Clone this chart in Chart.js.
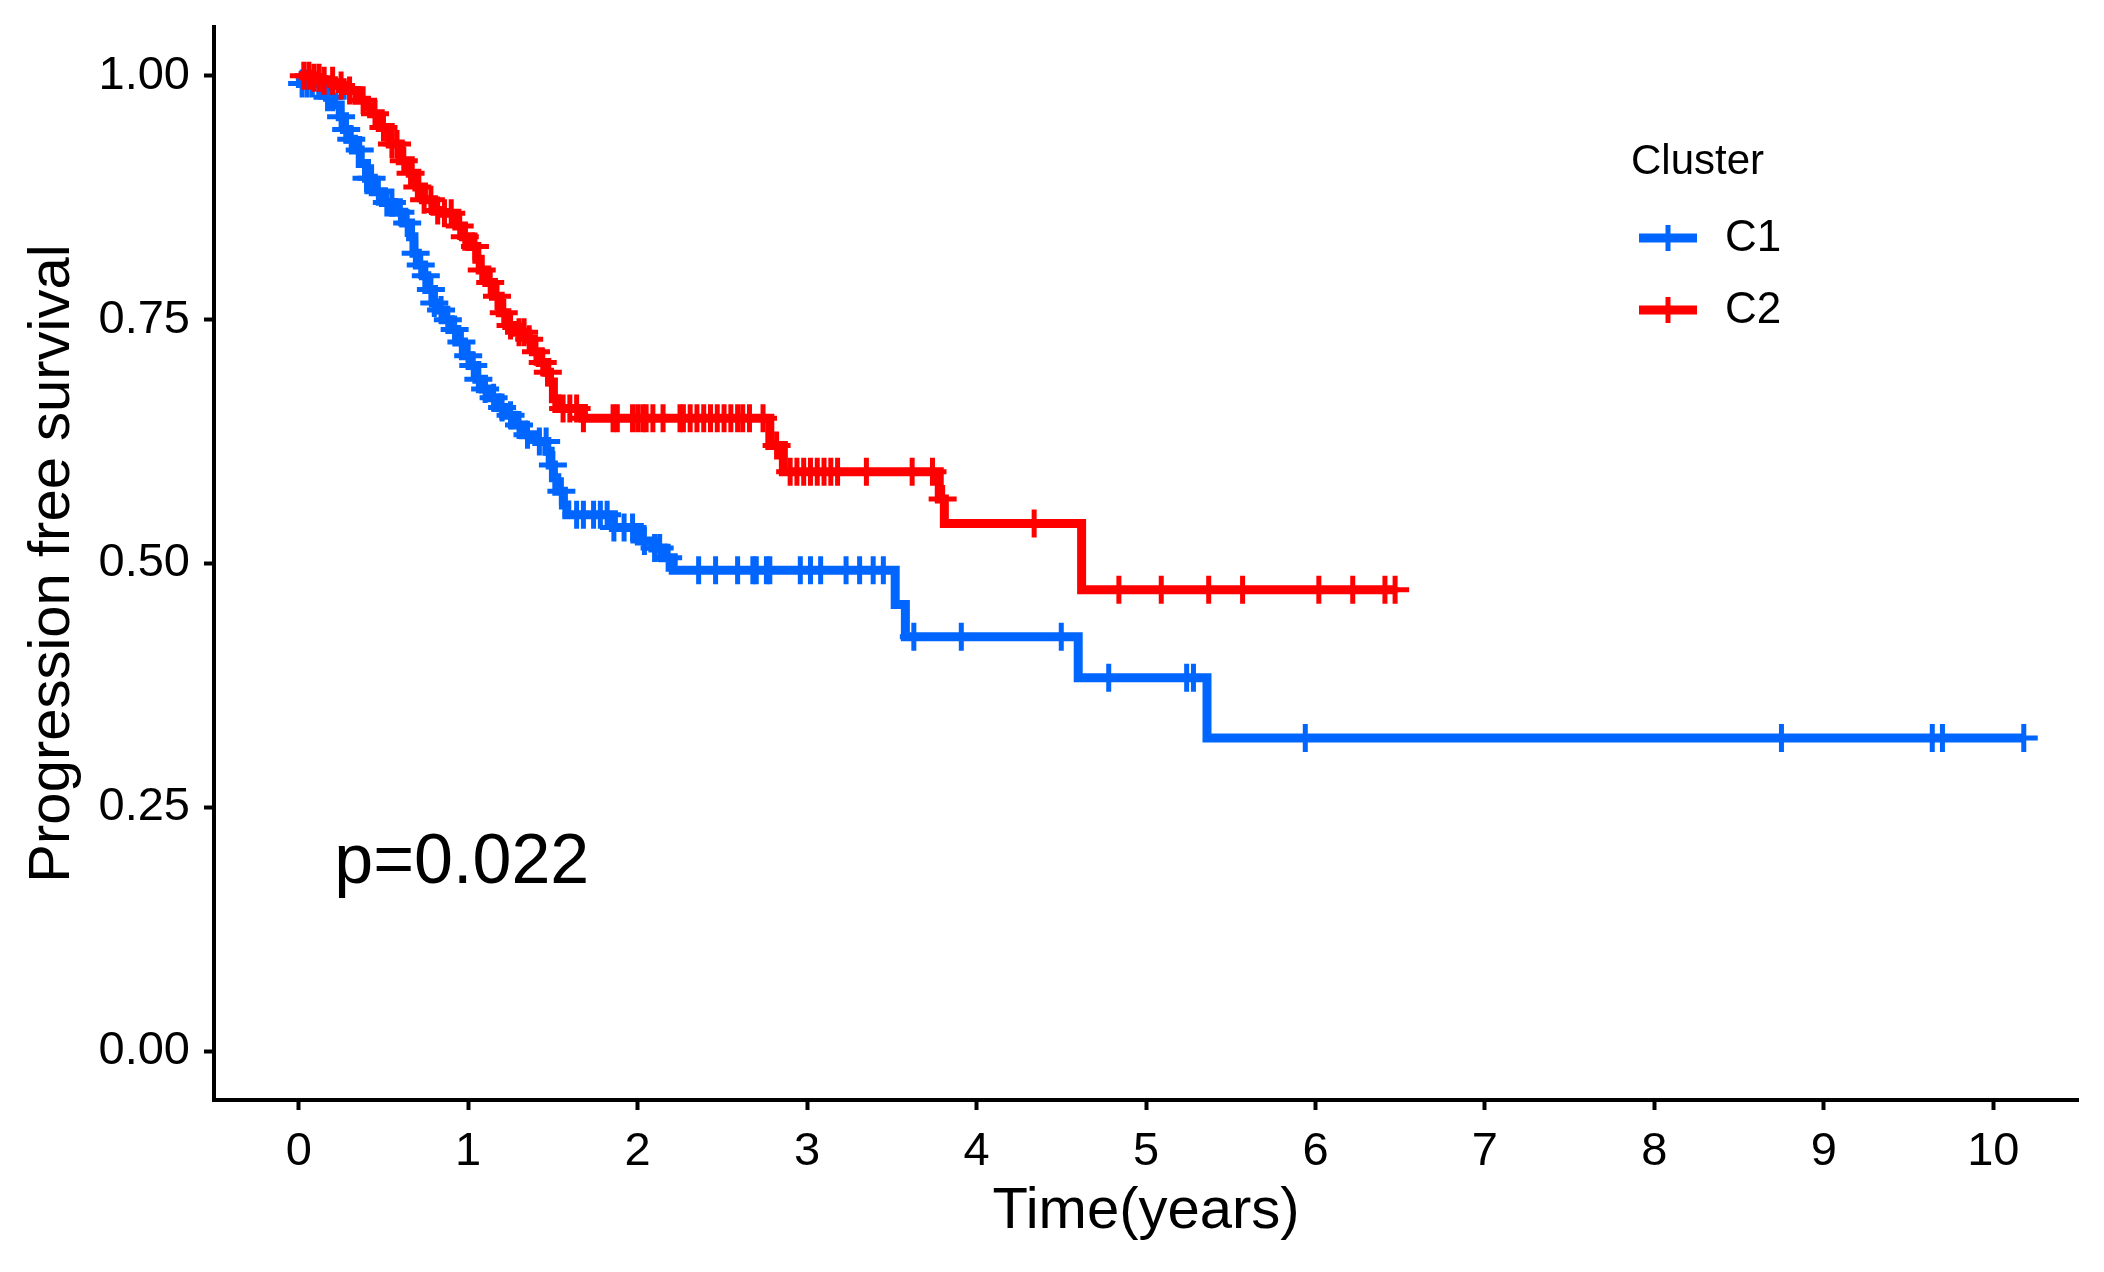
<!DOCTYPE html>
<html>
<head>
<meta charset="utf-8">
<script src="https://cdn.jsdelivr.net/npm/chart.js@4.4.1/dist/chart.umd.min.js"></script>
<style>
html, body { margin: 0; padding: 0; background: #fff; }
canvas { display: block; }
</style>
</head>
<body>
<canvas id="km" width="2104" height="1272"></canvas>
<script>
// Kaplan-Meier data (time in years, survival probability)
const c1Times = [0, 0.01, 0.13, 0.17, 0.205, 0.245, 0.27, 0.29, 0.323, 0.363,
                 0.40, 0.44, 0.50, 0.56, 0.62, 0.66, 0.68, 0.70, 0.736, 0.756,
                 0.795, 0.815, 0.854, 0.894, 0.933, 0.972, 1.012, 1.051, 1.09, 1.13,
                 1.17, 1.21, 1.267, 1.326, 1.405, 1.464, 1.484, 1.503, 1.523, 1.562,
                 1.582, 1.857, 2.01, 2.09, 2.15, 2.21, 3.52, 3.58, 4.60, 5.36];
const c1Surv  = [1, 0.992, 0.985, 0.978, 0.970, 0.958, 0.945, 0.935, 0.924, 0.910,
                 0.895, 0.881, 0.870, 0.860, 0.849, 0.835, 0.818, 0.806, 0.795, 0.781,
                 0.767, 0.760, 0.750, 0.740, 0.727, 0.713, 0.703, 0.689, 0.679, 0.670,
                 0.660, 0.652, 0.642, 0.632, 0.625, 0.615, 0.601, 0.588, 0.574, 0.560,
                 0.550, 0.537, 0.523, 0.516, 0.506, 0.493, 0.458, 0.425, 0.383, 0.321];
const c1End = 10.18;
const c1Censor = [0.02, 0.05, 0.08, 0.17, 0.2, 0.25, 0.28, 0.31, 0.36, 0.40,
                  0.43, 0.47, 0.52, 0.55, 0.6, 0.64, 0.69, 0.72, 0.75, 0.78,
                  0.8, 0.84, 0.88, 0.92, 0.96, 1.0, 1.03, 1.06, 1.1, 1.15,
                  1.2, 1.25, 1.3, 1.35, 1.42, 1.46, 1.5, 1.55, 1.64, 1.68,
                  1.74, 1.78, 1.82, 1.86, 1.92, 1.97, 2.04, 2.1, 2.13, 2.18,
                  2.36, 2.46, 2.59, 2.68, 2.70, 2.76, 2.78, 2.96, 3.02, 3.08,
                  3.23, 3.31, 3.39, 3.45, 3.63, 3.91, 4.50, 4.78, 5.24, 5.28,
                  5.94, 8.75, 9.64, 9.70, 10.18];

const c2Times = [0, 0.09, 0.13, 0.205, 0.264, 0.343, 0.40, 0.43, 0.481, 0.54,
                 0.599, 0.658, 0.697, 0.736, 0.795, 0.84, 0.933, 0.972, 1.012, 1.051,
                 1.071, 1.110, 1.149, 1.189, 1.228, 1.287, 1.346, 1.385, 1.425, 1.464,
                 1.48, 1.503, 1.523, 1.68, 2.78, 2.86, 3.78, 3.81, 4.62];
const c2Surv  = [1, 0.998, 0.995, 0.990, 0.985, 0.975, 0.968, 0.961, 0.947, 0.930,
                 0.913, 0.900, 0.886, 0.873, 0.862, 0.859, 0.846, 0.835, 0.825, 0.812,
                 0.801, 0.788, 0.774, 0.757, 0.744, 0.737, 0.730, 0.717, 0.706, 0.696,
                 0.686, 0.669, 0.659, 0.649, 0.621, 0.594, 0.566, 0.541, 0.473];
const c2End = 6.47;
const c2Censor = [0.03, 0.06, 0.09, 0.12, 0.15, 0.2, 0.25, 0.3, 0.38, 0.45,
                  0.5, 0.55, 0.58, 0.62, 0.66, 0.7, 0.74, 0.78, 0.82, 0.86,
                  0.9, 0.95, 0.98, 1.04, 1.08, 1.13, 1.17, 1.21, 1.25, 1.3,
                  1.33, 1.36, 1.4, 1.44, 1.47, 1.56, 1.60, 1.64, 1.68, 1.855,
                  1.88, 1.97, 2.0, 2.03, 2.05, 2.09, 2.15, 2.25, 2.27, 2.31,
                  2.35, 2.39, 2.43, 2.47, 2.51, 2.55, 2.59, 2.62, 2.66, 2.74,
                  2.82, 2.90, 2.94, 2.98, 3.02, 3.06, 3.10, 3.14, 3.18, 3.35,
                  3.62, 3.74, 3.80, 4.34, 4.84, 5.09, 5.37, 5.57, 6.02, 6.22,
                  6.41, 6.47];

const groupNames = ["C1", "C2"];
const groupColors = ["#0066FF", "#FF0000"];
const legendTitle = "Cluster";
const pValueText = "p=0.022";
const xTicks = [0, 1, 2, 3, 4, 5, 6, 7, 8, 9, 10];
const yTicks = [0, 0.25, 0.5, 0.75, 1];

const FONT = '"Liberation Sans", Arial, sans-serif';
Chart.defaults.font.family = FONT;
Chart.defaults.color = "#000";

function survAt(times, surv, t)
{
    let s = surv[0];
    for (let i = 0; i < times.length; i += 1)
    {
        if (times[i] <= t) s = surv[i];
    }
    return s;
}

function stepPoints(times, surv, end)
{
    const pts = times.map((t, i) => ({x: t, y: surv[i]}));
    pts.push({x: end, y: surv[surv.length - 1]});
    return pts;
}

function censorPoints(times, surv, cens)
{
    return cens.map(t => ({x: t, y: survAt(times, surv, t)}));
}

// legend and p-value, drawn on top of the plot
const kmExtras = {
    id: "kmExtras",
    afterDraw(chart)
    {
        const ctx = chart.ctx;
        ctx.save();
        ctx.fillStyle = "#000";
        ctx.textAlign = "left";
        ctx.textBaseline = "middle";
        ctx.font = "42px " + FONT;
        ctx.fillText(legendTitle, 1631, 162);

        for (let i = 0; i < groupNames.length; i += 1)
        {
            const y = 238 + i * 72;
            ctx.strokeStyle = groupColors[i];
            ctx.lineWidth = 9;
            ctx.beginPath();
            ctx.moveTo(1639, y);
            ctx.lineTo(1697, y);
            ctx.stroke();
            ctx.lineWidth = 5;
            ctx.beginPath();
            ctx.moveTo(1668, y - 13);
            ctx.lineTo(1668, y + 13);
            ctx.stroke();

            ctx.font = "44px " + FONT;
            ctx.fillText(groupNames[i], 1725, y + 1);
        }

        const xs = chart.scales.x;
        const ys = chart.scales.y;
        ctx.font = "70px " + FONT;
        ctx.textBaseline = "alphabetic";
        ctx.fillText(pValueText, xs.getPixelForValue(0.21), ys.getPixelForValue(0.172));
        ctx.restore();
    }
};

const lineSet = (label, pts, color, order) => ({
    label: label,
    data: pts,
    showLine: true,
    stepped: "before",
    borderColor: color,
    borderWidth: 9,
    borderJoinStyle: "miter",
    pointRadius: 0,
    fill: false,
    order: order
});

const censorSet = (label, pts, color, order) => ({
    label: label + " censored",
    data: pts,
    showLine: false,
    pointStyle: "cross",
    pointRadius: 14,
    pointBorderWidth: 5,
    pointBorderColor: color,
    pointBackgroundColor: color,
    order: order
});

const km = new Chart(document.getElementById("km"),
{
    type: "scatter",
    data:
    {
        datasets:
        [
            lineSet(groupNames[0], stepPoints(c1Times, c1Surv, c1End), groupColors[0], 3),
            censorSet(groupNames[0], censorPoints(c1Times, c1Surv, c1Censor), groupColors[0], 2),
            lineSet(groupNames[1], stepPoints(c2Times, c2Surv, c2End), groupColors[1], 1),
            censorSet(groupNames[1], censorPoints(c2Times, c2Surv, c2Censor), groupColors[1], 0)
        ]
    },
    options:
    {
        responsive: false,
        devicePixelRatio: 1,
        animation: false,
        layout: { padding: { top: 27, right: 26, left: 0, bottom: 0 } },
        plugins:
        {
            legend: { display: false },
            tooltip: { enabled: false }
        },
        scales:
        {
            x:
            {
                type: "linear",
                min: -0.5,
                max: 10.5,
                afterBuildTicks: s => { s.ticks = xTicks.map(v => ({value: v})); },
                afterFit: s => { s.height = 172; s.paddingLeft = 0; s.paddingRight = 0; },
                ticks: { font: { size: 47 }, color: "#000", padding: 14, callback: v => String(v) },
                grid: { drawOnChartArea: false, drawTicks: true, tickLength: 10, tickWidth: 4, tickColor: "#000" },
                border: { display: true, color: "#000", width: 4 },
                title: { display: true, text: "Time(years)", font: { size: 58 }, color: "#000",
                         padding: { top: 0, bottom: 25 } }
            },
            y:
            {
                type: "linear",
                min: -0.05,
                max: 1.05,
                afterBuildTicks: s => { s.ticks = yTicks.map(v => ({value: v})); },
                afterFit: s => { s.width = 214; s.paddingTop = 0; s.paddingBottom = 0; },
                ticks: { font: { size: 47 }, color: "#000", padding: 14, callback: v => v.toFixed(2) },
                grid: { drawOnChartArea: false, drawTicks: true, tickLength: 10, tickWidth: 4, tickColor: "#000" },
                border: { display: true, color: "#000", width: 4 },
                title: { display: true, text: "Progression free survival", font: { size: 58 }, color: "#000",
                         padding: { top: 18, bottom: 0 } }
            }
        }
    },
    plugins: [kmExtras]
});
</script>
</body>
</html>
